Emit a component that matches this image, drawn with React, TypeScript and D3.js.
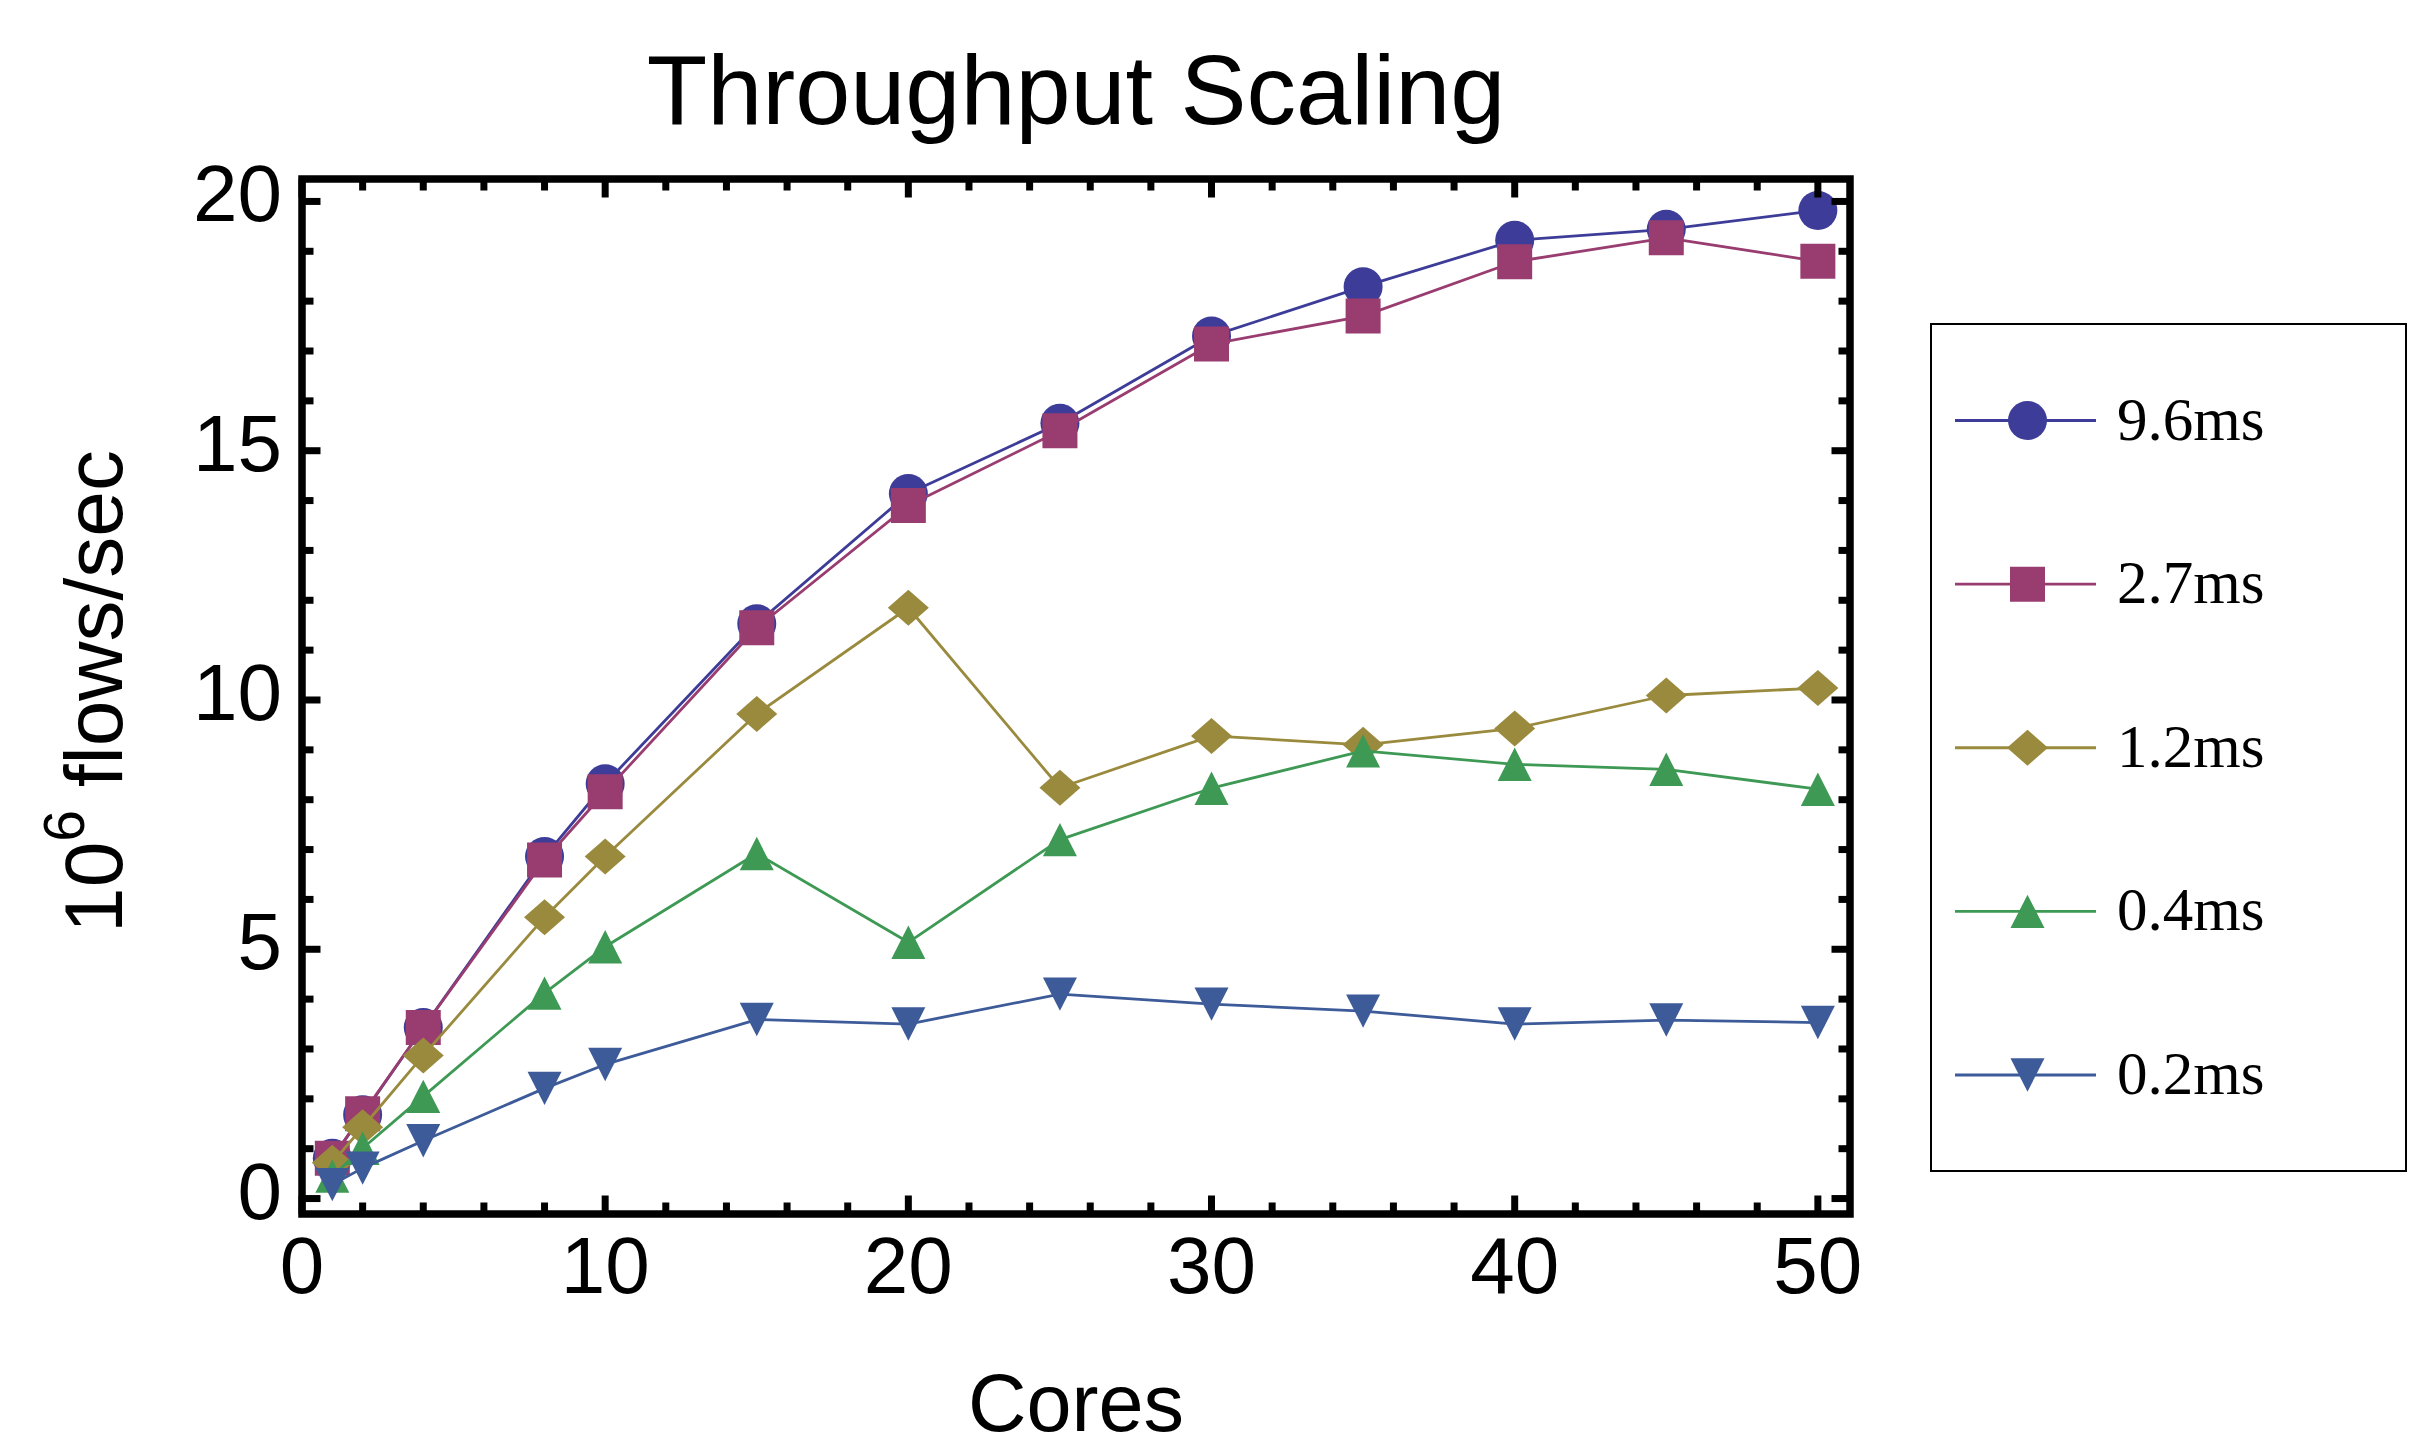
import React, { useEffect, useRef } from 'react';
import * as d3 from 'd3';

const cores = [1, 2, 4, 8, 10, 15, 20, 25, 30, 35, 40, 45, 50];
const seriesNames = ['9.6ms', '2.7ms', '1.2ms', '0.4ms', '0.2ms'];
const flows96 = [0.81, 1.68, 3.43, 6.86, 8.32, 11.53, 14.14, 15.55, 17.3, 18.29, 19.22, 19.44, 19.82];
const flows27 = [0.81, 1.7, 3.43, 6.79, 8.16, 11.45, 13.9, 15.4, 17.14, 17.7, 18.79, 19.27, 18.8];
const flows12 = [0.72, 1.43, 2.87, 5.64, 6.86, 9.72, 11.85, 8.24, 9.28, 9.1, 9.43, 10.09, 10.24];
const flows04 = [0.45, 1.01, 2.05, 4.12, 5.05, 6.92, 5.14, 7.2, 8.23, 8.98, 8.71, 8.61, 8.21];
const flows02 = [0.28, 0.61, 1.16, 2.21, 2.69, 3.59, 3.5, 4.1, 3.9, 3.76, 3.5, 3.58, 3.53];
const xTicks = [0, 10, 20, 30, 40, 50];
const yTicks = [0, 5, 10, 15, 20];

const colors = ['#3d3d99', '#993d70', '#998a3d', '#3d9954', '#3d5b99'];
const shapes = ['circle', 'square', 'diamond', 'up', 'down'];

const W = 2426;
const H = 1448;
const frame = { left: 302, right: 1850, top: 179, bottom: 1214 };

// marker outline around (0,0)
const markerPath = (shape: string) => {
  const p = d3.path();
  if (shape === 'circle') {
    p.arc(0, 0, 19.5, 0, Math.PI * 2);
  } else if (shape === 'square') {
    p.rect(-17.5, -17.5, 35, 35);
  } else if (shape === 'diamond') {
    p.moveTo(0, -18); p.lineTo(20.5, 0); p.lineTo(0, 18); p.lineTo(-20.5, 0);
  } else if (shape === 'up') {
    p.moveTo(0, -16.7); p.lineTo(17, 16.7); p.lineTo(-17, 16.7);
  } else {
    p.moveTo(0, 16.7); p.lineTo(17, -16.7); p.lineTo(-17, -16.7);
  }
  p.closePath();
  return p.toString();
};

export default function App() {
  const ref = useRef<SVGSVGElement>(null);

  useEffect(() => {
    const svg = d3.select(ref.current);
    svg.selectAll('*').remove();

    const allSeries = [flows96, flows27, flows12, flows04, flows02];

    const x = d3.scaleLinear().domain([0, 51.06]).range([frame.left, frame.right]);
    const y = d3.scaleLinear().domain([-0.31, 20.45]).range([frame.bottom, frame.top]);

    const font = 'Liberation Sans, Arial, Helvetica, sans-serif';

    // series
    const line = d3.line<number>().x((d, i) => x(cores[i])).y(d => y(d));
    const plot = svg.append('g');
    allSeries.forEach((vals, si) => {
      plot.append('path')
        .attr('d', line(vals))
        .attr('fill', 'none')
        .attr('stroke', colors[si])
        .attr('stroke-width', 2.8)
        .attr('stroke-linejoin', 'round');
      plot.append('g')
        .selectAll('path')
        .data(vals)
        .join('path')
          .attr('d', markerPath(shapes[si]))
          .attr('transform', (d, i) => `translate(${x(cores[i])},${y(d)})`)
          .attr('fill', colors[si]);
    });

    // frame ticks (inside, on all four sides)
    const ticks = svg.append('g').attr('stroke', '#000').attr('stroke-width', 7);
    const xMinor = d3.range(0, 51, 2).filter(v => v % 10 !== 0);
    const yMinor = d3.range(0, 21, 1).filter(v => v % 5 !== 0);
    const major = 18.5;
    const minor = 11.5;
    const addX = (vals: number[], len: number) => {
      vals.forEach(v => {
        ticks.append('line').attr('x1', x(v)).attr('x2', x(v)).attr('y1', frame.bottom).attr('y2', frame.bottom - len);
        ticks.append('line').attr('x1', x(v)).attr('x2', x(v)).attr('y1', frame.top).attr('y2', frame.top + len);
      });
    };
    const addY = (vals: number[], len: number) => {
      vals.forEach(v => {
        ticks.append('line').attr('y1', y(v)).attr('y2', y(v)).attr('x1', frame.left).attr('x2', frame.left + len);
        ticks.append('line').attr('y1', y(v)).attr('y2', y(v)).attr('x1', frame.right).attr('x2', frame.right - len);
      });
    };
    addX(xTicks, major);
    addX(xMinor, minor);
    addY(yTicks, major);
    addY(yMinor, minor);

    svg.append('rect')
      .attr('x', frame.left).attr('y', frame.top)
      .attr('width', frame.right - frame.left).attr('height', frame.bottom - frame.top)
      .attr('fill', 'none').attr('stroke', '#000').attr('stroke-width', 7.5);

    // tick labels
    svg.append('g').selectAll('text').data(xTicks).join('text')
      .attr('x', d => x(d)).attr('y', 1293)
      .attr('text-anchor', 'middle')
      .attr('font-family', font).attr('font-size', 80)
      .text(d => d);
    svg.append('g').selectAll('text').data(yTicks).join('text')
      .attr('x', 282).attr('y', d => y(d) + 20)
      .attr('text-anchor', 'end')
      .attr('font-family', font).attr('font-size', 80)
      .text(d => d);

    // title and axis labels
    const cx = (frame.left + frame.right) / 2;
    svg.append('text').attr('x', cx).attr('y', 124).attr('text-anchor', 'middle')
      .attr('font-family', font).attr('font-size', 99).text('Throughput Scaling');
    svg.append('text').attr('x', cx).attr('y', 1431).attr('text-anchor', 'middle')
      .attr('font-family', font).attr('font-size', 81).text('Cores');
    const yl = svg.append('text')
      .attr('transform', `translate(122,${(frame.top + frame.bottom) / 2 - 5}) rotate(-90)`)
      .attr('text-anchor', 'middle')
      .attr('font-family', font).attr('font-size', 82);
    yl.append('tspan').text('10');
    yl.append('tspan').attr('font-size', 57).attr('dy', -38).text('6');
    yl.append('tspan').attr('dy', 38).text('\u00a0flows/sec');

    // legend
    const legend = svg.append('g');
    legend.append('rect')
      .attr('x', 1931).attr('y', 324).attr('width', 475).attr('height', 847)
      .attr('fill', '#fff').attr('stroke', '#000').attr('stroke-width', 2);
    const rowY = d3.scaleLinear().domain([0, 4]).range([420.5, 1075]);
    seriesNames.forEach((name, si) => {
      const ry = rowY(si);
      legend.append('line')
        .attr('x1', 1955).attr('x2', 2096).attr('y1', ry).attr('y2', ry)
        .attr('stroke', colors[si]).attr('stroke-width', 2.8);
      legend.append('path')
        .attr('d', markerPath(shapes[si]))
        .attr('transform', `translate(2027.5,${ry})`)
        .attr('fill', colors[si]);
      legend.append('text')
        .attr('x', 2117).attr('y', ry + 19)
        .attr('font-family', 'Liberation Serif, Times New Roman, serif')
        .attr('font-size', 61)
        .text(name);
    });
  }, []);

  return (
    <svg ref={ref} width={W} height={H} style={{ position: 'absolute', left: 0, top: 0, background: '#fff' }} />
  );
}
